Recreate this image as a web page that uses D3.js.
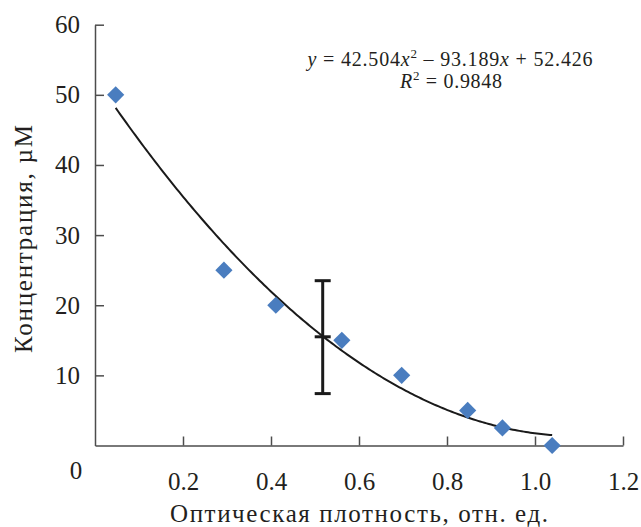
<!DOCTYPE html>
<html>
<head>
<meta charset="utf-8">
<script src="https://cdn.jsdelivr.net/npm/d3@7"></script>
<style>
  body { margin: 0; background: #fff; }
  svg text { font-family: "Times New Roman", "Liberation Serif", "DejaVu Serif", serif !important; fill: #231f20; }
</style>
</head>
<body>
<svg id="chart" width="641" height="527"></svg>
<script>
// data
var odValues = [0.047, 0.293, 0.411, 0.561, 0.697, 0.847, 0.926, 1.039];
var concValues = [50, 25, 20, 15, 10, 5, 2.5, 0];
var xTicks = [0.2, 0.4, 0.6, 0.8, 1.0, 1.2];
var yTicks = [10, 20, 30, 40, 50, 60];
// trendline coefficients (printed on chart)
var coef = [42.504, -93.189, 52.426];
var r2 = 0.9848;
// error bar
var errX = [0.5175];
var errMid = [15.5];
var errLow = [7.4];
var errHigh = [23.5];

var svg = d3.select("#chart");

var x = d3.scaleLinear().domain([0, 1.2]).range([95, 623]);
var y = d3.scaleLinear().domain([0, 60]).range([445.5, 24.7]);

var axisColor = "#4d4d4d";

// x axis, ticks pointing inward
var gx = svg.append("g")
    .attr("transform", "translate(0," + y(0) + ")")
    .call(d3.axisBottom(x).tickValues(xTicks).tickSize(-9).tickSizeOuter(0)
        .tickPadding(27).tickFormat(d3.format(".1f")));
gx.select(".domain").attr("stroke", axisColor).attr("stroke-width", 1.5);
gx.selectAll(".tick line").attr("stroke", axisColor).attr("stroke-width", 1.5);
gx.selectAll(".tick text").style("font-size", "25px").attr("fill", "#231f20");

// y axis
var gy = svg.append("g")
    .attr("transform", "translate(" + x(0) + ",0)")
    .call(d3.axisLeft(y).tickValues(yTicks).tickSize(-9).tickSizeOuter(0)
        .tickPadding(15));
gy.select(".domain").attr("stroke", axisColor).attr("stroke-width", 1.5);
gy.selectAll(".tick line").attr("stroke", axisColor).attr("stroke-width", 1.5);
gy.selectAll(".tick text").style("font-size", "25px").attr("fill", "#231f20");

// shared zero label in the corner
svg.append("text")
    .attr("x", 76).attr("y", 479)
    .attr("text-anchor", "middle")
    .style("font-size", "25px")
    .text("0");

// trendline
var xs = d3.range(0, 201).map(function (i) {
    return odValues[0] + (odValues[odValues.length - 1] - odValues[0]) * i / 200;
});
var line = d3.line()
    .x(function (d) { return x(d); })
    .y(function (d) { return y(coef[0] * d * d + coef[1] * d + coef[2]); });
svg.append("path")
    .datum(xs)
    .attr("d", line)
    .attr("fill", "none")
    .attr("stroke", "#1a1a1a")
    .attr("stroke-width", 2);

// error bar
var eb = svg.append("g").attr("stroke", "#1a1a1a");
errX.forEach(function (ex, i) {
    eb.append("line")
        .attr("x1", x(ex)).attr("x2", x(ex))
        .attr("y1", y(errHigh[i])).attr("y2", y(errLow[i]))
        .attr("stroke-width", 3);
    [errHigh[i], errMid[i], errLow[i]].forEach(function (v) {
        eb.append("line")
            .attr("x1", x(ex) - 8).attr("x2", x(ex) + 8)
            .attr("y1", y(v)).attr("y2", y(v))
            .attr("stroke-width", 3);
    });
});

// points
svg.selectAll(".pt")
    .data(odValues)
    .enter()
    .append("path")
    .attr("class", "pt")
    .attr("d", d3.symbol().type(d3.symbolSquare).size(148))
    .attr("transform", function (d, i) {
        return "translate(" + x(d) + "," + y(concValues[i]) + ") rotate(45)";
    })
    .attr("fill", "#4a7dbf");

// equation
var eq = svg.append("text")
    .attr("x", 450).attr("y", 66)
    .attr("text-anchor", "middle")
    .attr("textLength", 285)
    .attr("lengthAdjust", "spacing")
    .style("font-size", "20px");
eq.append("tspan").style("font-style", "italic").text("y");
eq.append("tspan").text(" = " + coef[0].toFixed(3));
eq.append("tspan").style("font-style", "italic").text("x");
eq.append("tspan").style("font-size", "13px").attr("dy", -8).text("2");
eq.append("tspan").attr("dy", 8).text(" \u2013 " + Math.abs(coef[1]).toFixed(3));
eq.append("tspan").style("font-style", "italic").text("x");
eq.append("tspan").text(" + " + coef[2].toFixed(3));

var rt = svg.append("text")
    .attr("x", 451).attr("y", 88)
    .attr("text-anchor", "middle")
    .attr("textLength", 102)
    .attr("lengthAdjust", "spacing")
    .style("font-size", "20px");
rt.append("tspan").style("font-style", "italic").text("R");
rt.append("tspan").style("font-size", "13px").attr("dy", -8).text("2");
rt.append("tspan").attr("dy", 8).text(" = " + r2.toFixed(4));

// axis titles
svg.append("text")
    .attr("x", 359).attr("y", 522)
    .attr("text-anchor", "middle")
    .attr("textLength", 378)
    .attr("lengthAdjust", "spacing")
    .style("font-size", "25px")
    .text("Оптическая плотность, отн. ед.");

svg.append("text")
    .attr("transform", "translate(32,239) rotate(-90)")
    .attr("text-anchor", "middle")
    .attr("textLength", 228)
    .attr("lengthAdjust", "spacing")
    .style("font-size", "25px")
    .text("Концентрация, µM");
</script>
</body>
</html>
